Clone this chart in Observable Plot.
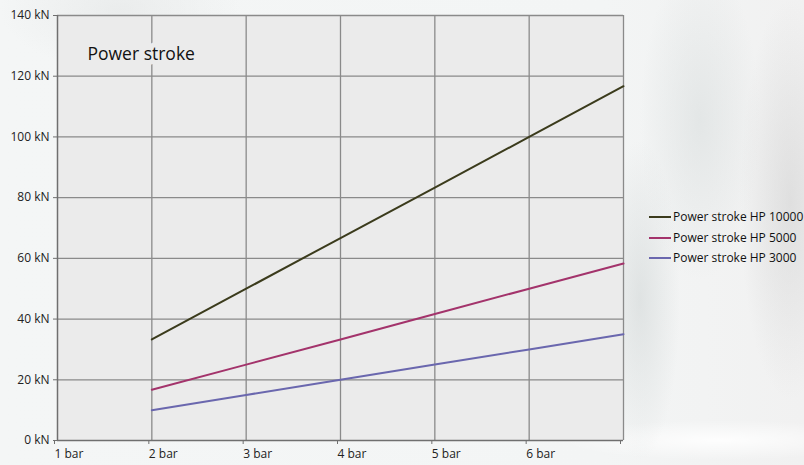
<!DOCTYPE html>
<html>
<head>
<meta charset="utf-8">
<script src="https://cdn.jsdelivr.net/npm/d3@7"></script>
<script src="https://cdn.jsdelivr.net/npm/@observablehq/plot@0.6"></script>
<style>
  html, body { margin: 0; padding: 0; }
  body {
    width: 804px; height: 465px; overflow: hidden; position: relative;
    background:
      radial-gradient(ellipse 60px 160px at 700px 120px, rgba(215,220,220,0.55), rgba(215,220,220,0) 100%),
      radial-gradient(ellipse 50px 200px at 790px 200px, rgba(205,205,205,0.5), rgba(205,205,205,0) 100%),
      radial-gradient(ellipse 40px 160px at 640px 300px, rgba(210,215,215,0.6), rgba(210,215,215,0) 100%),
      radial-gradient(ellipse 160px 20px at 720px 440px, rgba(255,255,255,0.9), rgba(255,255,255,0) 100%),
      radial-gradient(ellipse 120px 60px at 120px 10px, rgba(230,232,232,0.7), rgba(230,232,232,0) 100%),
      linear-gradient(90deg, #f4f6f6 0%, #f3f5f5 75%, #f1f1f1 100%);
    font-family: "Open Sans", sans-serif;
  }
  #chart { position: absolute; left: 0; top: 0; }
  #legend { position: absolute; left: 649px; top: 207px; font-size: 12px; color: #111; line-height: 20.5px; }
  #legend .item { display: flex; align-items: center; white-space: nowrap; }
  #legend .sw { width: 22px; height: 2px; margin-right: 2px; }
</style>
</head>
<body>
<div id="chart"></div>
<div id="legend"></div>
<script>
// Data
const pressures = [2, 3, 4, 5, 6, 7];
const seriesNames = ["Power stroke HP 10000", "Power stroke HP 5000", "Power stroke HP 3000"];
const hp10000 = [33.3, 50, 66.7, 83.3, 100, 116.7];
const hp5000 = [16.7, 25, 33.3, 41.7, 50, 58.3];
const hp3000 = [10, 15, 20, 25, 30, 35];
const seriesColors = ["#3b3b1c", "#a3336b", "#6a67ae"];
const xTicks = [1, 2, 3, 4, 5, 6, 7];
const yTicks = [0, 20, 40, 60, 80, 100, 120, 140];
const title = "Power stroke";

const values = [hp10000, hp5000, hp3000];
const rows = [];
seriesNames.forEach((name, i) => {
  pressures.forEach((p, j) => rows.push({ series: name, bar: p, kN: values[i][j] }));
});

const plotFill = "#ebebeb";
const gridColor = "#8a8a8a";
const axisColor = "#6f6f6f";

const chart = Plot.plot({
  width: 804,
  height: 465,
  marginLeft: 57,
  marginRight: 181,
  marginTop: 15,
  marginBottom: 25,
  style: { background: "transparent", fontFamily: "Open Sans, sans-serif", fontSize: "12px", color: "#222" },
  x: { domain: [1, 7], ticks: xTicks, label: null },
  y: { domain: [0, 140], ticks: yTicks, label: null },
  color: { domain: seriesNames, range: seriesColors },
  marks: [
    Plot.frame({ fill: plotFill, stroke: null }),
    Plot.gridX(xTicks.slice(1), { stroke: gridColor, strokeOpacity: 1, strokeWidth: 1.3 }),
    Plot.gridY(yTicks.slice(1), { stroke: gridColor, strokeOpacity: 1, strokeWidth: 1.3 }),
    Plot.text([title], {
      frameAnchor: "top-left", dx: 30, dy: 39, text: d => d,
      fontSize: 17.5, fill: "#111", stroke: plotFill, strokeWidth: 10, paintOrder: "stroke",
      textAnchor: "start", lineAnchor: "middle"
    }),
    Plot.line(rows, { x: "bar", y: "kN", z: "series", stroke: "series", strokeWidth: 2 }),
    Plot.axisY(yTicks, { tickFormat: d => `${d} kN`, tickSize: 4, tickPadding: 4, stroke: axisColor, fill: "#222", label: null, fontSize: 12 }),
    Plot.axisX(xTicks, { tickFormat: d => d < 7 ? `${d} bar` : "", tickSize: 4, tickPadding: 5, stroke: axisColor, fill: "#222", label: null, textAnchor: "start", dx: -3, fontSize: 12 }),
    Plot.ruleX([1], { stroke: axisColor, strokeWidth: 1.5 }),
    Plot.ruleY([0], { stroke: axisColor, strokeWidth: 1.5 })
  ]
});
document.getElementById("chart").append(chart);

const legend = document.getElementById("legend");
seriesNames.forEach((name, i) => {
  const item = document.createElement("div");
  item.className = "item";
  const sw = document.createElement("span");
  sw.className = "sw";
  sw.style.background = seriesColors[i];
  const label = document.createElement("span");
  label.textContent = name;
  item.append(sw, label);
  legend.append(item);
});
</script>
</body>
</html>
